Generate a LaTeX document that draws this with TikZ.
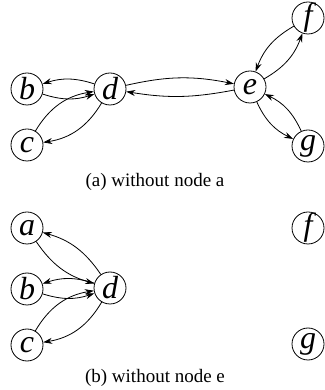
\documentclass[tikz,border=0pt]{standalone}
\usepackage{fontspec}
\setmainfont{Liberation Serif}
\usetikzlibrary{arrows.meta}

\begin{document}
\begin{tikzpicture}[
  x=1pt, y=1pt,
  vtx/.style={circle, draw, line width=0.8pt, minimum size=32pt, inner sep=0pt, font=\fontsize{32}{32}\selectfont\itshape},
  caption/.style={font=\fontsize{19}{20}\selectfont},
  arc/.style={-{Stealth[length=9pt, width=6pt]}, line width=0.8pt}
]
  \useasboundingbox (0,0) rectangle (324,390);

  % (a) without node a
  \node[vtx] (b1) at (27, 301) {b};
  \node[vtx] (d1) at (110, 301) {d};
  \node[vtx] (c1) at (27, 245) {c};
  \node[vtx] (e1) at (250, 303) {e};
  \node[vtx] (f1) at (308, 372) {f};
  \node[vtx] (g1) at (308, 244) {g};
  \node[caption] (capa) at (155, 208) {(a) without node a};

  \draw[arc] (d1) to[bend right=18] (b1);
  \draw[arc] (b1) to[bend right=18] (d1);
  \draw[arc] (c1) to[bend left=25] (d1);
  \draw[arc] (d1) to[bend left=25] (c1);
  \draw[arc] (d1) to[bend left=12] (e1);
  \draw[arc] (e1) to[bend left=10] (d1);
  \draw[arc] (e1) to[bend right=20] (f1);
  \draw[arc] (f1) to[bend right=20] (e1);
  \draw[arc] (e1) to[bend right=20] (g1);
  \draw[arc] (g1) to[bend right=20] (e1);

  % (b) without node e
  \node[vtx] (a2) at (27, 162) {a};
  \node[vtx] (b2) at (27, 101) {b};
  \node[vtx] (d2) at (110, 102) {d};
  \node[vtx] (c2) at (27, 45) {c};
  \node[vtx] (f2) at (308, 162) {f};
  \node[vtx] (g2) at (308, 46) {g};
  \node[caption] (capb) at (155, 12) {(b) without node e};

  \draw[arc] (a2) to[bend right=20] (d2);
  \draw[arc] (d2) to[bend right=20] (a2);
  \draw[arc] (d2) to[bend right=18] (b2);
  \draw[arc] (b2) to[bend right=18] (d2);
  \draw[arc] (c2) to[bend left=25] (d2);
  \draw[arc] (d2) to[bend left=25] (c2);
\end{tikzpicture}
\end{document}
